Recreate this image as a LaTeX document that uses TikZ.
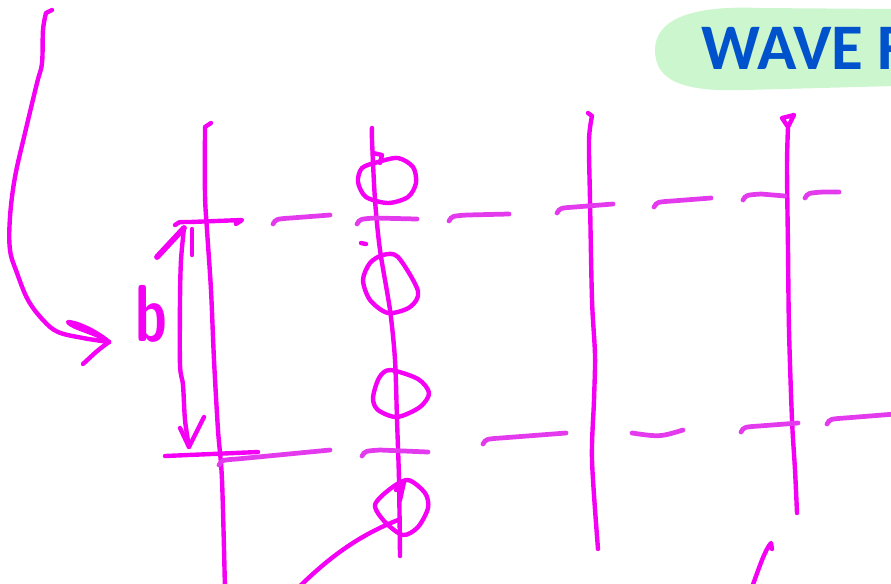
\documentclass[tikz,border=0pt]{standalone}
\usepackage{fontspec}
\newfontfamily\titlefont{Carlito}
\usetikzlibrary{positioning}
\definecolor{penmag}{RGB}{244,0,244}
\definecolor{dashmag}{RGB}{228,58,238}
\definecolor{blobgreen}{RGB}{204,246,206}
\definecolor{titleblue}{RGB}{0,82,204}

\begin{document}
\begin{tikzpicture}[x=0.02cm, y=-0.02cm,
    pen/.style={penmag, line width=2.5pt, line cap=round, line join=round},
    dashpen/.style={dashmag, line width=2.7pt, line cap=round},
    title/.style={anchor=base west, text=titleblue, font=\titlefont\bfseries\fontsize{37}{37}\selectfont}]
  \useasboundingbox (0,0) rectangle (891,583);
  \clip (0,0) rectangle (891,583);

  % title blob
  \fill[blobgreen] (895,9) -- (760,8) .. controls (690,5) and (655,20) .. (655,50)
    .. controls (655,82) and (685,92) .. (745,90) -- (895,86) -- cycle;
  \node[title] (wave) at (695,69) {WAVE F};

  % curved arrow on the left
  \draw[pen] (52,10) -- (46,13) plot[smooth, tension=0.6] coordinates {(46,13) (43,30) (42,63) (37,83)
    (25,133) (15,177) (10,217) (10,250) (17,273) (28,300) (43,320) (58,332) (83,338) (109,342)};
  \coordinate (tipL) at (109,342);
  \draw[pen] (tipL) .. controls (95,330) and (75,322) .. (68,322) .. controls (72,328) and (95,332) .. (tipL);
  \draw[pen] (tipL) .. controls (98,350) .. (83,364);

  % label b
  \node[text=penmag, font=\sffamily\bfseries\fontsize{46}{46}\selectfont, xscale=0.7, anchor=base west,
    inner sep=0pt] (blabel) at (135,341) {b};

  % vertical lines
  \draw[pen] (211,123) -- (205,127) plot[smooth] coordinates {(205,127) (205,195) (207,230) (211,290)
    (214,360) (218,430) (222,480) (225,590)};
  \draw[pen] plot[smooth] coordinates {(372,128) (372,140) (375,200) (380,250) (390,310)
    (395,360) (397,420) (399,480) (400,556)};
  \draw[pen] (588,113) -- (592,116) plot[smooth] coordinates {(592,116) (589,140) (590,200) (592,300)
    (595,355) (594,400) (592,460) (598,549)};
  \draw[pen] (788,127) -- (782,118) -- (794,115) -- (788,127)
    plot[smooth] coordinates {(788,127) (787,167) (788,250) (789,330) (792,420) (795,470) (797,513)};

  % circles on the second line
  \draw[pen] (373,153) -- (382,155) -- (380,163);
  \draw[pen] plot[smooth cycle] coordinates {(378,162) (398,158) (413,167) (416,183) (408,197)
    (388,203) (366,197) (358,182) (362,168)};
  \draw[pen] plot[smooth cycle] coordinates {(383,255) (398,257) (418,291) (410,307) (388,313)
    (370,300) (363,280) (370,263)};
  \draw[pen] plot[smooth cycle] coordinates {(390,370) (418,379) (429,393) (420,407) (397,417)
    (378,410) (373,398) (379,378)};
  \draw[pen] plot[smooth cycle] coordinates {(408,480) (425,493) (428,508) (418,527) (403,535)
    (385,522) (375,505) (390,489)};
  \draw[pen] (396,490) -- (404,482) -- (400,500);
  \draw[pen] (361,243) -- (366,244);

  % strokes cut by the bottom edge
  \draw[pen] (296,590) .. controls (330,556) and (360,535) .. (398,520);
  \draw[pen] (751,590) .. controls (760,565) and (765,550) .. (771,543) -- (772,549);

  % dimension b
  \coordinate (bTop) at (184,228);
  \coordinate (bBot) at (189,447);
  \draw[pen] plot[smooth] coordinates {(bTop) (181,260) (180,300) (180,365) (183,385) (185,420) (bBot)};
  \draw[pen, line width=3.3pt] (157,257) -- (bTop);
  \draw[pen] (192,229) -- (192,255);
  \draw[pen] (180,428) -- (bBot) -- (204,417);

  % dashed levels
  \draw[pen] (175,225) .. controls (178,222) .. (190,222) -- (242,220) -- (236,224);
  \draw[pen] (165,456) -- (258,452);
  \foreach \ax/\ay/\bx/\by in {273/224/330/215, 357/224/417/219, 449/221/509/214, 557/213/613/204,
      654/207/711/198, 743/200/785/196, 805/198/839/192,
      219/465/330/450, 362/456/428/452, 483/444/566/433, 741/432/798/423, 827/424/895/414}
    \draw[dashpen] (\ax,\ay) .. controls (\ax+3,\ay-5) .. (\ax+18,\ay-6) -- (\bx,\by);
  \draw[dashpen] (632,433) .. controls (660,437) .. (683,430);
\end{tikzpicture}
\end{document}
